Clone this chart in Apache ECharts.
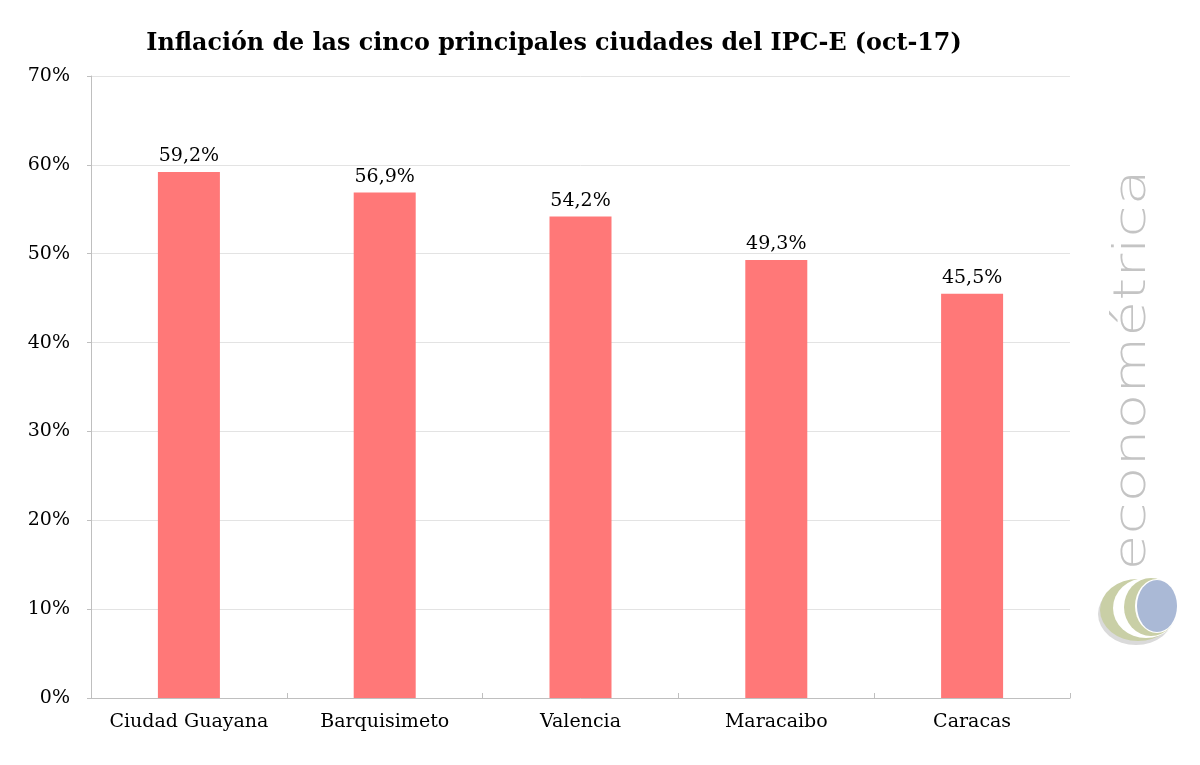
<!DOCTYPE html>
<html><head><meta charset="utf-8">
<script src="https://cdn.jsdelivr.net/npm/echarts@6/dist/echarts.min.js"></script>
<style>html,body{margin:0;padding:0;background:#fff}#c{width:1200px;height:765px}</style>
</head><body><div id="c"></div>
<script>
const categories = ['Ciudad Guayana', 'Barquisimeto', 'Valencia', 'Maracaibo', 'Caracas'];
const inflation = [59.2, 56.9, 54.2, 49.3, 45.5];
const yTicks = [0, 10, 20, 30, 40, 50, 60, 70];
const titleText = 'Inflación de las cinco principales ciudades del IPC-E (oct-17)';
const logoText = 'econométrica';

const serif = '"DejaVu Serif", Georgia, serif';
function ell(x, y, rx, ry, fill) {
  return { type: 'circle', x: x, y: y, scaleX: rx / 10, scaleY: ry / 10,
           shape: { cx: 0, cy: 0, r: 10 }, style: { fill: fill } };
}
const chart = echarts.init(document.getElementById('c'));
chart.setOption({
  animation: false,
  backgroundColor: '#fff',
  title: {
    text: titleText, left: 549, top: 27, textAlign: 'center',
    textStyle: { fontFamily: serif, fontWeight: 'bold', fontSize: 23.8, color: '#000' }
  },
  grid: { left: 91, right: 130, top: 76, bottom: 67 },
  xAxis: {
    type: 'category', data: categories,
    axisLine: { lineStyle: { color: '#bfbfbf', width: 1 } },
    axisTick: { show: true, inside: true, length: 5, interval: 0, lineStyle: { color: '#bfbfbf' } },
    axisLabel: { interval: 0, fontFamily: serif, fontSize: 19, color: '#000', margin: 15 }
  },
  yAxis: {
    type: 'value', min: yTicks[0], max: yTicks[yTicks.length - 1], interval: 10,
    axisLine: { show: true, lineStyle: { color: '#bfbfbf', width: 1 } },
    axisTick: { show: true, length: 4, lineStyle: { color: '#bfbfbf' } },
    splitLine: { lineStyle: { color: '#e3e3e3', width: 1 } },
    axisLabel: { fontFamily: serif, fontSize: 19, color: '#000', margin: 21, formatter: v => v + '%' }
  },
  series: [{
    type: 'bar', data: inflation, barWidth: 62,
    itemStyle: { color: '#ff7878' },
    label: {
      show: true, position: 'top', distance: 6,
      fontFamily: serif, fontSize: 19, color: '#000',
      formatter: p => p.value.toFixed(1).replace('.', ',') + '%'
    }
  }],
  graphic: [
    { type: 'text', x: 1134, y: 370, rotation: Math.PI / 2, scaleX: 1.33,
      style: { text: logoText, fill: '#c4c4c4', font: '200 44px "DejaVu Sans", Lato, sans-serif', align: 'center', verticalAlign: 'middle' } },
    ell(1136, 614, 38, 31, '#dadada'),
    ell(1138, 610, 38, 31, '#c9cfa6'),
    ell(1146, 608, 33, 30, '#ffffff'),
    ell(1151, 607, 27, 29, '#c9cfa6'),
    ell(1157, 606, 22, 27, '#ffffff'),
    ell(1157, 606, 20, 26, '#aab9d6')
  ]
});
</script></body></html>
